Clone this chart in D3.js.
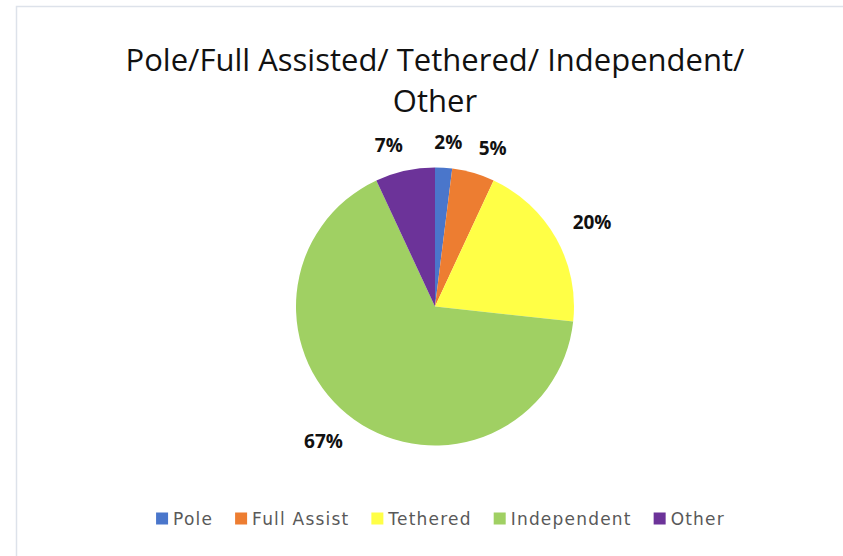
<!DOCTYPE html>
<html>
<head>
<meta charset="utf-8">
<script src="https://cdn.jsdelivr.net/npm/d3@7"></script>
<style>
  html, body { margin: 0; padding: 0; background: #ffffff; }
  svg { display: block; }
</style>
</head>
<body>
<svg id="chart" width="843" height="556"></svg>
<script>
// Share of each walking mode
const categories = ["Pole", "Full Assist", "Tethered", "Independent", "Other"];
const percentages = [2, 5, 20, 67, 7];
const sliceColors = ["#4a76cb", "#ed7d31", "#ffff46", "#a0d063", "#6c3399"];
const titleLines = ["Pole/Full Assisted/ Tethered/ Independent/", "Other"];

const W = 843, H = 556;
const cx = 435, cy = 306.5, radius = 139;

const svg = d3.select("#chart");

// light frame around the chart area
svg.append("rect")
  .attr("x", 16.5).attr("y", 6.5)
  .attr("width", W + 20).attr("height", H + 20)
  .attr("fill", "#ffffff")
  .attr("stroke", "#dde2ea")
  .attr("stroke-width", 1.5);

// title
const title = svg.append("text")
  .attr("text-anchor", "middle")
  .attr("font-family", "'Open Sans', sans-serif")
  .attr("font-size", 31)
  .attr("fill", "#111111");
titleLines.forEach((line, i) => {
  title.append("tspan").attr("x", cx).attr("y", 71 + i * 41).text(line);
});

// pie
const data = categories.map((c, i) => ({ category: c, value: percentages[i], color: sliceColors[i] }));
const pie = d3.pie().value(d => d.value).sort(null);
const arc = d3.arc().innerRadius(0).outerRadius(radius);
const arcs = pie(data);

const g = svg.append("g").attr("transform", `translate(${cx},${cy})`);
g.selectAll("path.slice")
  .data(arcs)
  .join("path")
  .attr("class", "slice")
  .attr("d", arc)
  .attr("fill", d => d.data.color);

// outside-end data labels: the corner of the label box facing the centre sits on a ring
const labelRing = 158;
const labels = g.selectAll("text.pct")
  .data(arcs)
  .join("text")
  .attr("class", "pct")
  .attr("font-family", "'Open Sans', sans-serif")
  .attr("font-weight", 700)
  .attr("font-size", 19)
  .attr("fill", "#111111")
  .attr("text-anchor", "middle")
  .text(d => d.data.value + "%");

labels.each(function(d) {
  const bb = this.getBBox();
  const w = bb.width, h = 13.6;
  const a = (d.startAngle + d.endAngle) / 2;
  const s = Math.sin(a), c = Math.cos(a);
  const px = labelRing * s, py = -labelRing * c;
  const ox = Math.sign(s) * Math.min(1, Math.abs(s) * 4) * w / 2;
  const oy = -Math.sign(c) * Math.min(1, Math.abs(c) * 4) * h / 2;
  d3.select(this)
    .attr("x", px + ox)
    .attr("y", py + oy + h / 2);
});

// legend
const legend = svg.append("g");
const items = legend.selectAll("g.item")
  .data(data)
  .join("g")
  .attr("class", "item");
items.append("rect")
  .attr("width", 12).attr("height", 12)
  .attr("y", -6)
  .attr("fill", d => d.color);
items.append("text")
  .attr("x", 17)
  .attr("y", 6)
  .attr("font-family", "'DejaVu Sans', sans-serif")
  .attr("font-size", 17)
  .attr("letter-spacing", 1.2)
  .attr("fill", "#595959")
  .text(d => d.category);

let cursor = 0;
const itemGap = 22;
items.each(function() {
  const tw = d3.select(this).select("text").node().getComputedTextLength();
  d3.select(this).attr("transform", `translate(${cursor},0)`);
  cursor += 17 + tw + itemGap;
});
const legendWidth = cursor - itemGap;
legend.attr("transform", `translate(${440.5 - legendWidth / 2},518.5)`);
</script>
</body>
</html>
